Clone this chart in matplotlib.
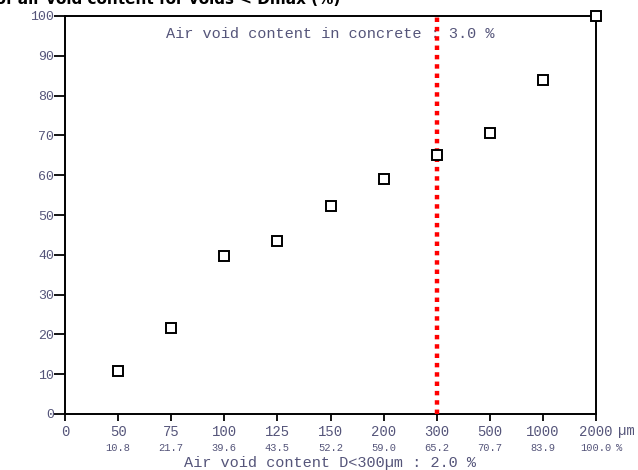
import matplotlib
matplotlib.use("Agg")
import matplotlib.pyplot as plt
import matplotlib.transforms as mtransforms

# Data
sizes = ["0", "50", "75", "100", "125", "150", "200", "300", "500", "1000", "2000"]
cum_pct = [10.8, 21.7, 39.6, 43.5, 52.2, 59.0, 65.2, 70.7, 83.9, 100.0]   # for sizes[1:]
y_ticks = [0, 10, 20, 30, 40, 50, 60, 70, 80, 90, 100]
dmax_label = "300"
title = "Distribution of air void content for voids < Dmax (%)"
top_note = "Air void content in concrete : 3.0 %"
bottom_note = "Air void content D<300\u00b5m : 2.0 %"

mono = "Liberation Mono"
tcol = "#55557a"

fig = plt.figure(figsize=(6.38, 4.70), dpi=100)
ax = fig.add_axes([65/638, 1-414/470, (596-65)/638, (414-16)/470])

xpos = list(range(len(sizes)))
ax.plot(xpos[1:], cum_pct, linestyle="none", marker="s", markersize=6.5,
        markerfacecolor="white", markeredgecolor="black", markeredgewidth=1.4,
        clip_on=False, zorder=5)

xi = sizes.index(dmax_label)
ax.plot([xi, xi], [0, 100], color="red", linewidth=3.2,
        linestyle=(0, (1, 1.1)), solid_capstyle="butt", dash_capstyle="butt", zorder=4)

ax.set_xlim(0, len(sizes) - 1)
ax.set_ylim(0, 100)
ax.set_xticks(xpos)
ax.set_xticklabels(sizes, fontfamily=mono, fontsize=10, color=tcol)
ax.set_yticks(y_ticks)
ax.set_yticklabels([str(v) for v in y_ticks], fontfamily=mono, fontsize=9.5, color=tcol)
ax.tick_params(axis="y", direction="out", length=8, width=1.3, pad=0)
ax.tick_params(axis="x", direction="out", length=5, width=1.3, pad=3)
for s in ax.spines.values():
    s.set_linewidth(1.4)

trans = mtransforms.blended_transform_factory(ax.transData, ax.transAxes)
for i, v in enumerate(cum_pct):
    ax.text(xpos[i + 1], -0.086, f"{v:.1f}", transform=trans, ha="center", va="center",
            fontfamily=mono, fontsize=7.5, color=tcol)
off = mtransforms.offset_copy(trans, fig=fig, x=22, y=0, units="dots")
ax.text(xpos[-1], -0.043, "\u00b5m", transform=off, ha="left", va="center",
        fontfamily=mono, fontsize=10, color=tcol)
off2 = mtransforms.offset_copy(trans, fig=fig, x=20, y=0, units="dots")
ax.text(xpos[-1], -0.086, "%", transform=off2, ha="left", va="center",
        fontfamily=mono, fontsize=7.5, color=tcol)

ax.text(0.5, 0.955, top_note, transform=ax.transAxes, ha="center", va="center",
        fontfamily=mono, fontsize=11, color=tcol)
fig.text(330/638, 1 - 463/470, bottom_note, ha="center", va="center",
         fontfamily=mono, fontsize=11, color=tcol)

fig.text(340/638, 1.0, title, ha="right", va="center", fontsize=11,
         fontweight="bold", color="black", family="DejaVu Sans")

fig.savefig("out.png", dpi=100)
